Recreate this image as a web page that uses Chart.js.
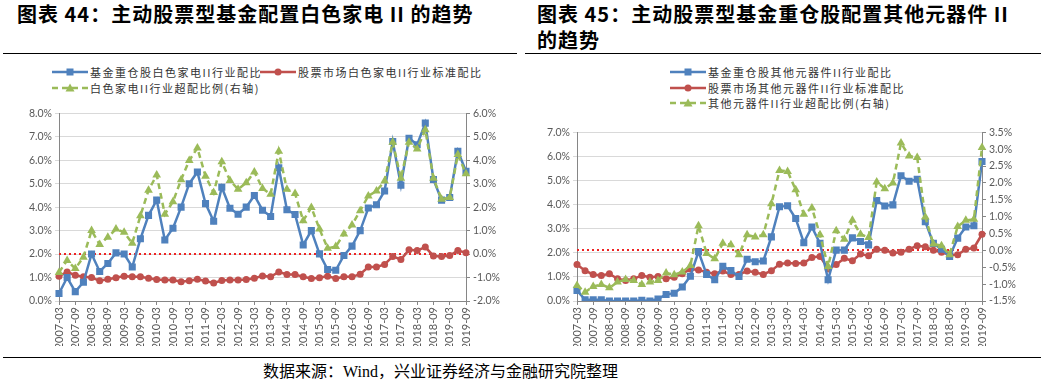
<!DOCTYPE html>
<html>
<head>
<meta charset="utf-8">
<script src="https://cdn.jsdelivr.net/npm/chart.js@4.4.0/dist/chart.umd.min.js"></script>
<style>
  body { margin:0; width:1043px; height:391px; background:#fff; position:relative; overflow:hidden; font-family:"Noto Sans CJK SC", sans-serif; }
  .title { position:absolute; font-weight:700; font-size:20px; letter-spacing:1px; line-height:26px; color:#000; white-space:nowrap; }
  .rule { position:absolute; height:0; border-top:1.5px solid #000; }
  .leg { position:absolute; font-size:11px; letter-spacing:1.5px; color:#333; height:14px; line-height:14px; white-space:nowrap; display:flex; align-items:center; }
  .leg svg { margin-right:2px; }
  canvas { position:absolute; }
  .src { position:absolute; left:263px; top:361px; font-size:16px; line-height:22px; font-family:"Liberation Serif","Noto Sans CJK SC",serif; color:#000; white-space:nowrap; }
</style>
</head>
<body>

<div class="title" style="left:17px;top:1px;">图表 44：主动股票型基金配置白色家电 II 的趋势</div>
<div class="rule" style="left:3px;top:53px;width:514px;"></div>

<div class="title" style="left:537px;top:1px;">图表 45：主动股票型基金重仓股配置其他元器件 II<br>的趋势</div>
<div class="rule" style="left:525px;top:53px;width:516px;"></div>

<div id="leg1"></div>
<div id="leg2"></div>

<canvas id="c1" width="520" height="242" style="left:0;top:104px;"></canvas>
<canvas id="c2" width="523" height="223" style="left:520px;top:123px;"></canvas>

<div class="rule" style="left:3px;top:357px;width:1038px;"></div>
<div class="src">数据来源：Wind，兴业证券经济与金融研究院整理</div>

<script>
// quarters 2007-03 .. 2019-09
const quarters = [];
for (let y = 2007; y <= 2019; y++) {
  for (const m of ["03", "06", "09", "12"]) {
    if (y === 2019 && m === "12") break;
    quarters.push(y + "-" + m);
  }
}

// 图表44 白色家电 II
const fundWhite = [0.32,1.0,0.4,0.8,2.0,1.26,1.6,2.05,2.0,1.45,2.65,3.65,4.3,2.6,3.1,4.0,5.0,5.5,4.15,3.4,4.85,3.95,3.7,4.0,4.5,
  3.87,3.6,5.68,3.89,3.69,2.39,3.0,2.01,1.34,1.31,1.94,2.34,3.0,3.96,4.1,4.69,6.8,4.94,6.94,6.66,7.58,5.18,4.3,4.41,6.38,5.53];
const marketWhite = [1.06,1.24,1.1,1.03,1.0,0.86,0.93,0.99,1.06,1.03,1.03,0.97,0.92,0.89,0.89,0.82,0.86,0.93,0.85,0.77,0.87,0.89,0.89,0.92,0.97,
  1.07,1.03,1.24,1.13,1.13,1.03,0.96,0.99,1.06,0.96,1.03,1.03,1.14,1.45,1.45,1.56,1.9,1.77,2.18,2.15,2.3,1.92,1.9,1.94,2.15,2.06];
const overWhite = [-0.78,-0.27,-0.62,-0.13,1.0,0.41,0.72,1.07,0.93,0.46,1.63,2.72,3.37,1.7,2.23,3.17,3.99,4.52,3.32,2.62,3.93,3.14,2.76,3.04,3.5,
  2.8,2.55,4.38,2.76,2.58,1.42,1.99,1.07,0.25,0.32,0.86,1.24,1.85,2.48,2.69,3.11,4.77,3.23,4.77,4.48,5.3,3.23,2.34,2.41,4.24,3.42];

// 图表45 其他元器件 II
const fundOther = [0.44,0.05,0.05,0.05,0.0,0.0,0.0,0.0,0.03,0.0,0.08,0.27,0.32,0.58,1.03,2.05,1.1,0.88,1.44,1.26,1.02,1.73,1.63,1.66,2.66,
  3.91,3.95,3.42,2.42,3.07,2.39,0.88,2.11,2.11,2.62,2.47,2.33,4.17,3.94,3.99,5.2,4.97,5.05,3.29,2.39,2.15,1.85,2.61,3.07,3.12,5.79];
const marketOther = [1.51,1.26,1.1,1.06,1.13,0.92,0.85,0.92,1.06,0.99,1.02,0.92,0.99,1.13,1.33,1.29,1.19,1.13,1.24,1.1,1.1,1.24,1.19,1.1,1.26,
  1.53,1.58,1.56,1.58,1.81,1.85,1.33,1.51,1.77,1.67,1.95,1.88,2.15,2.11,1.99,2.02,2.15,2.29,2.25,2.11,2.02,1.92,1.92,2.15,2.2,2.77];
const overOther = [-1.04,-1.24,-1.07,-1.01,-1.11,-0.94,-0.86,-0.89,-1.01,-0.94,-0.89,-0.67,-0.72,-0.64,-0.45,0.73,-0.09,-0.25,0.21,0.17,-0.13,0.46,0.4,0.46,1.38,
  2.37,2.34,1.8,1.07,1.26,0.46,-0.48,0.58,0.33,0.89,0.48,0.38,2.03,1.83,2.0,3.18,2.8,2.75,0.99,0.19,0.14,-0.13,0.71,0.89,0.92,3.05];

const BLUE = "#4f81bd", RED = "#c0504d", GREEN = "#9bbb59";

function icon(kind) {
  if (kind === "blue")
    return '<svg width="36" height="10"><line x1="0" y1="5" x2="36" y2="5" stroke="' + BLUE + '" stroke-width="2.5"/><rect x="14.5" y="1.5" width="7" height="7" fill="' + BLUE + '"/></svg>';
  if (kind === "red")
    return '<svg width="36" height="10"><line x1="0" y1="5" x2="36" y2="5" stroke="' + RED + '" stroke-width="2.5"/><circle cx="18" cy="5" r="3.5" fill="' + RED + '"/></svg>';
  return '<svg width="36" height="10"><line x1="0" y1="5" x2="36" y2="5" stroke="' + GREEN + '" stroke-width="2.5" stroke-dasharray="6,4"/><polygon points="18,0.5 22.5,8.5 13.5,8.5" fill="' + GREEN + '"/></svg>';
}

function legend(id, items) {
  document.getElementById(id).innerHTML = items.map(it =>
    '<div class="leg" style="left:' + it[0] + 'px;top:' + it[1] + 'px;">' + icon(it[2]) + it[3] + '</div>').join("");
}

legend("leg1", [
  [52, 65, "blue", "基金重仓股白色家电II行业配比"],
  [260, 65, "red", "股票市场白色家电II行业标准配比"],
  [52, 81, "green", "白色家电II行业超配比例(右轴)"]
]);
legend("leg2", [
  [670, 65, "blue", "基金重仓股其他元器件II行业配比"],
  [670, 81, "red", "股票市场其他元器件II行业标准配比"],
  [670, 96, "green", "其他元器件II行业超配比例(右轴)"]
]);

const zeroLine = {
  id: "zeroLine",
  beforeDatasetsDraw(chart) {
    const { ctx, chartArea: a, scales } = chart;
    const y = Math.round(scales.y1.getPixelForValue(0));
    ctx.save();
    ctx.strokeStyle = "#ee2222";
    ctx.lineWidth = 2;
    ctx.setLineDash([2, 3]);
    ctx.beginPath();
    ctx.moveTo(a.left, y);
    ctx.lineTo(a.right, y);
    ctx.stroke();
    ctx.restore();
  }
};

function makeChart(id, fund, market, over, left, right, leftW, rightW) {
  const axisColor = "#868686";
  const tickFont = { family: "Lato", size: 10.5 };
  return new Chart(document.getElementById(id), {
    type: "line",
    data: {
      labels: quarters,
      datasets: [
        { data: fund, yAxisID: "y", borderColor: BLUE, backgroundColor: BLUE, borderWidth: 2.5,
          pointStyle: "rect", pointRadius: 5, pointBorderWidth: 0, tension: 0, order: 2 },
        { data: market, yAxisID: "y", borderColor: RED, backgroundColor: RED, borderWidth: 2.5,
          pointStyle: "circle", pointRadius: 3.5, pointBorderWidth: 0, tension: 0, order: 3 },
        { data: over, yAxisID: "y1", borderColor: GREEN, backgroundColor: GREEN, borderWidth: 2.5,
          borderDash: [6, 4], pointStyle: "triangle", pointRadius: 5, pointBorderWidth: 0, tension: 0, order: 1 }
      ]
    },
    options: {
      responsive: false,
      animation: false,
      layout: { padding: { top: 8, left: 0, right: 0, bottom: 0 } },
      plugins: { legend: { display: false }, tooltip: { enabled: false } },
      scales: {
        x: {
          offset: false,
          grid: { drawOnChartArea: false, tickLength: 4, color: c => (c.index % 2 === 0 ? axisColor : "rgba(0,0,0,0)") },
          border: { color: axisColor },
          ticks: { autoSkip: false, maxRotation: 90, minRotation: 90, padding: 2, color: "#595959",
            font: { family: "Lato", size: 11 },
            callback: (v, i) => (i % 2 === 0 ? quarters[i] : "") },
          afterFit: s => { s.height = 45; }
        },
        y: {
          position: "left", min: left[0], max: left[1],
          grid: { color: "#d9d9d9", tickLength: 4 },
          border: { color: axisColor },
          ticks: { stepSize: left[2], color: "#595959", font: tickFont, padding: 3,
            callback: v => v.toFixed(1) + "%" },
          afterFit: s => { s.width = leftW; }
        },
        y1: {
          position: "right", min: right[0], max: right[1],
          grid: { drawOnChartArea: false, color: axisColor, tickLength: 4 },
          border: { color: axisColor },
          ticks: { stepSize: right[2], color: "#595959", font: tickFont, padding: 3,
            callback: v => v.toFixed(1) + "%" },
          afterFit: s => { s.width = rightW; }
        }
      }
    },
    plugins: [zeroLine]
  });
}

makeChart("c1", fundWhite, marketWhite, overWhite, [0, 8, 1], [-2, 6, 1], 59, 54);
makeChart("c2", fundOther, marketOther, overOther, [0, 7, 1], [-1.5, 3.5, 0.5], 57, 61);
</script>
</body>
</html>
